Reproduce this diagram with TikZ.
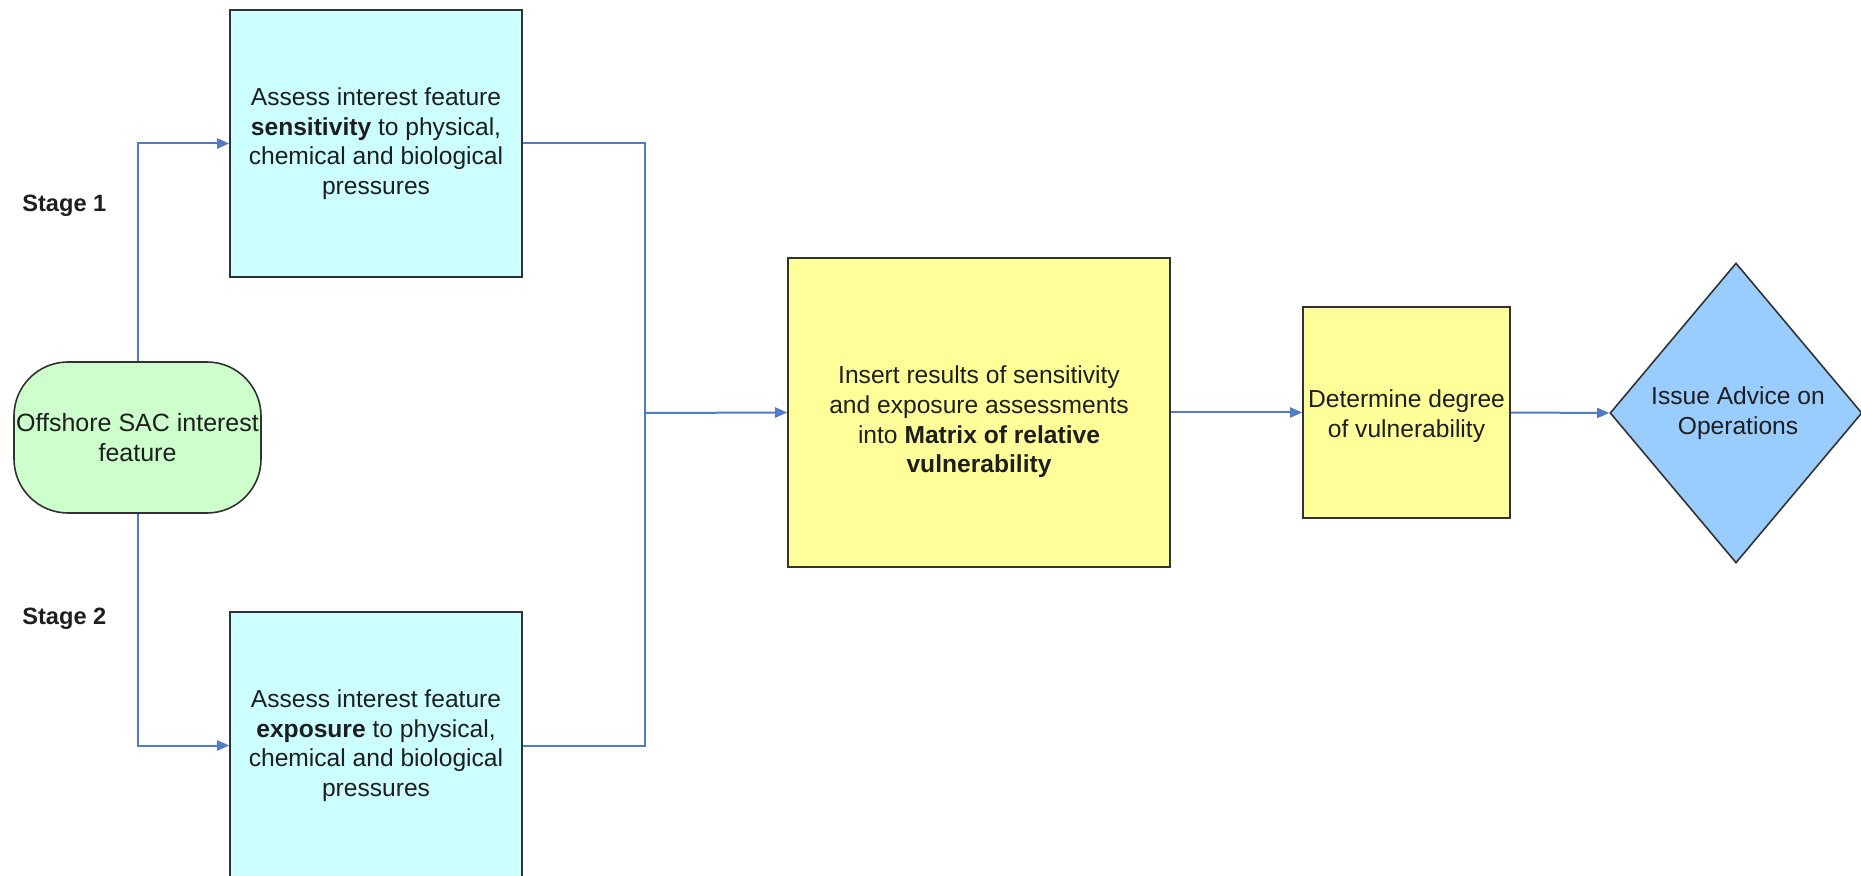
\documentclass[tikz,border=0pt]{standalone}
\usepackage{fontspec}
\setmainfont{Liberation Sans}
\usetikzlibrary{arrows.meta,shapes.geometric}
\definecolor{boxcyan}{RGB}{204,255,255}
\definecolor{boxyellow}{RGB}{255,255,153}
\definecolor{boxgreen}{RGB}{204,255,204}
\definecolor{boxblue}{RGB}{153,204,255}
\definecolor{conn}{RGB}{82,122,200}
\definecolor{edge}{RGB}{50,50,50}
\definecolor{txt}{RGB}{30,30,30}
\tikzset{
  base/.style={draw=edge, line width=0.8pt, inner sep=0pt, align=center, text=txt,
    font=\fontsize{12.3pt}{14.8pt}\selectfont},
  plaintext/.style={inner sep=0pt, align=center, text=txt, font=\fontsize{12.3pt}{14.8pt}\selectfont},
  cyanbox/.style={base, fill=boxcyan, minimum width=146pt, minimum height=133.5pt},
  yelbox/.style={base, fill=boxyellow},
  termbox/.style={base, fill=boxgreen, rounded corners=27pt, minimum width=123.5pt, minimum height=75.5pt},
  decbox/.style={base, fill=boxblue, diamond, minimum width=126pt, minimum height=150pt},
  stagelabel/.style={inner sep=0pt, anchor=west, text=txt, font=\fontsize{11.8pt}{14pt}\selectfont\bfseries},
  flow/.style={draw=conn, line width=1pt, -{Triangle[length=6pt,width=5pt]}},
  flowline/.style={draw=conn, line width=1pt},
}
\begin{document}
\begin{tikzpicture}[x=0.5pt,y=-0.5pt]
\useasboundingbox (0,0) rectangle (1861,876);
\fill[white] (0,0) rectangle (1861,876);

\node[termbox, font=\fontsize{12.5pt}{14.8pt}\selectfont] (term) at (137.5,437.5) {Offshore SAC interest\\feature};
\node[cyanbox] (top) at (376,143.5) {Assess interest feature\\\textbf{sensitivity} to physical,\\chemical and biological\\pressures};
\node[cyanbox] (bot) at (376,745.5) {Assess interest feature\\\textbf{exposure} to physical,\\chemical and biological\\pressures};
\node[yelbox, minimum width=191pt, minimum height=154.5pt] (mid) at (979,412.5) {};
\node[plaintext] (midtext) at (979,422) {Insert results of sensitivity\\and exposure assessments\\into \textbf{Matrix of relative}\\\textbf{vulnerability}};
\node[yelbox, minimum width=103.5pt, minimum height=105.5pt] (det) at (1406.5,412.5) {};
\node[plaintext] (dettext) at (1406.5,416) {Determine degree\\of vulnerability};
\node[decbox] (dec) at (1736,413) {};
\node[plaintext] (dectext) at (1738,413) {Issue Advice on\\Operations};

\node[stagelabel] (s1) at (22,206) {Stage 1};
\node[stagelabel] (s2) at (22,619) {Stage 2};

\coordinate (jm) at (645,413);

\draw[flow] (term.north) |- (top.west);
\draw[flow] (term.south) |- (bot.west);
\draw[flowline] (top.east) -| (jm);
\draw[flowline] (bot.east) -| (jm);
\draw[flow] (jm) -- (mid.west);
\draw[flow] (mid.east) -- (det.west);
\draw[flow] (det.east) -- (dec.west);
\end{tikzpicture}
\end{document}
